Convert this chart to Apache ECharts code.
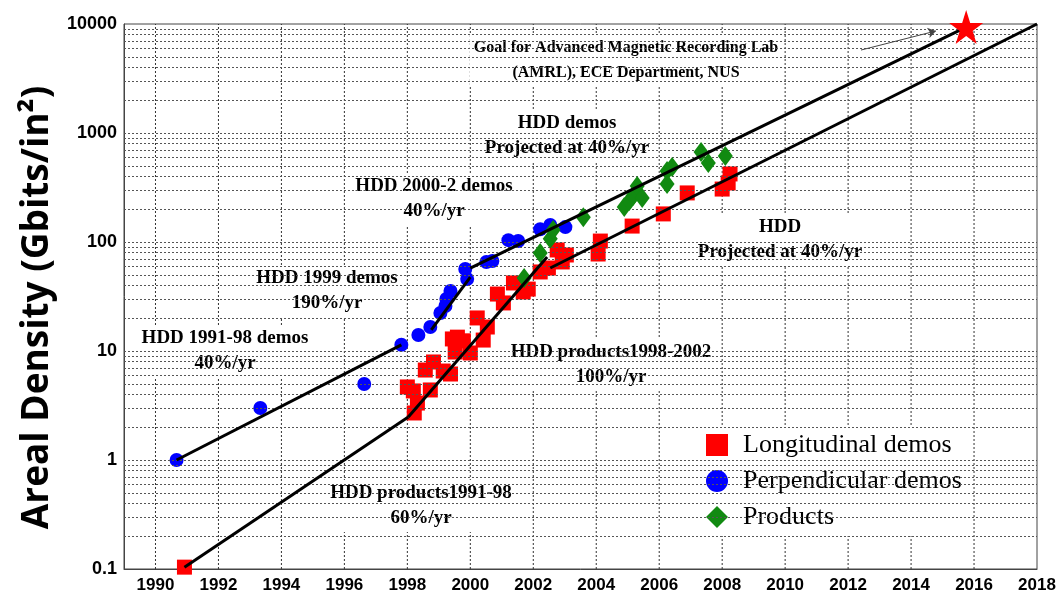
<!DOCTYPE html>
<html>
<head>
<meta charset="utf-8">
<script src="https://cdn.jsdelivr.net/npm/echarts@6/dist/echarts.min.js"></script>
<style>
html,body{margin:0;padding:0;background:#fff;}
#chart{width:1064px;height:595px;}
</style>
</head>
<body>
<div id="chart"></div>
<script>
// ---- data ----
const xTicks = [1990,1992,1994,1996,1998,2000,2002,2004,2006,2008,2010,2012,2014,2016,2018];
const yTicks = [0.1,1,10,100,1000,10000];

const longYears = [1990.92,1998.00,1998.19,1998.32,1998.22,1998.57,1998.83,1998.73,1999.14,1999.37,1999.43,1999.59,1999.52,1999.78,2000.00,2000.22,2000.54,2000.41,2000.86,2001.05,2001.37,2001.68,2001.84,2002.22,2002.48,2002.76,2002.92,2003.05,2004.06,2004.13,2005.14,2006.13,2006.89,2008.00,2008.19,2008.25];
const longVals  = [0.104,4.68,4.30,3.33,2.70,6.69,7.93,4.39,6.55,6.15,12.9,13.4,9.79,12.4,9.59,20.1,16.6,12.6,33.3,27.6,42.1,34.8,37.0,53.1,57.7,84.5,65.6,76.0,77.6,102,140,181,282,306,348,421];

const perpYears = [1990.67,1993.33,1996.63,1997.81,1998.35,1998.73,1999.05,1999.21,1999.24,1999.37,1999.84,1999.90,2000.51,2000.70,2001.21,2001.52,2002.22,2002.54,2003.02];
const perpVals  = [1.00,3.00,4.98,11.4,14.0,16.6,22.3,25.9,30.0,35.5,56.5,45.8,65.6,66.9,104,102,131,143,137];

const prodYears = [2001.71,2002.22,2002.54,2002.63,2003.59,2004.89,2005.05,2005.17,2005.30,2005.46,2006.25,2006.41,2006.25,2007.33,2007.56,2008.10];
const prodVals  = [46.8,79.3,107,129,169,209,238,264,326,253,448,488,340,670,531,615];

const goalYear = [2015.75];
const goalVal  = [9380];

// trend lines: [year, value] endpoints
const demos9198   = [[1990.67,1.0],[1997.81,11.4]];
const demos1999   = [[1998.76,15.6],[2000.0,47.7]];
const demos20002  = [[2000.0,57.7],[2015.75,9380]];
const prod9198    = [[1990.92,0.104],[1998.03,2.48]];
const prod982002  = [[1998.03,2.48],[2002.44,72.8]];
const hddProj     = [[2002.54,57.7],[2018,10000]];
const goalArrow   = [[2012.41,5770],[2014.79,8630]];

// gridlines
const xGrid = [1990,1992,1994,1996,1998,2000,2002,2004,2006,2008,2010,2012,2014,2016];
const decades = [0.1,1,10,100,1000];
const mult = [1,2,3,4,5,6,7,8,9];

// ---- build ----
const zip = (a,b) => a.map((v,i)=>[v,b[i]]);
const yMin = yTicks[0], yMax = yTicks[yTicks.length - 1];
const yGrid = [];
decades.forEach(d => mult.forEach(m => { const v = +(d*m).toPrecision(3); if (v > yMin) yGrid.push(v); }));

const serif = '"Liberation Serif","Times New Roman",serif';
const starPath = 'path://M50,0 L61.8,36.2 L100,36.2 L69.1,58.6 L80.9,95.1 L50,72.7 L19.1,95.1 L30.9,58.6 L0,36.2 L38.2,36.2 Z';
const gridStyle = {type:[2,2], color:'#555', width:1};
const vGridStyle = {type:[2,2], color:'#333', width:1};

function trend(name, pts) {
  return {name, type:'line', data: pts, symbol:'none', silent:true, z:6,
          lineStyle:{color:'#000', width:3}, clip:false};
}
function vgrid(x) {
  return {name:'vg' + x, type:'line', data:[[x, yMin],[x, yMax]], symbol:'none', silent:true, z:0,
          lineStyle:vGridStyle, clip:false};
}
function note(x, y, text, size) {
  return {type:'text', x, y, z:1, silent:true,
    style:{text, font:'bold ' + size + 'px ' + serif, fill:'#000', align:'center', verticalAlign:'middle',
           lineHeight:25, backgroundColor:'#fff', padding:[1,4]}};
}

const chart = echarts.init(document.getElementById('chart'));
chart.setOption({
  animation:false,
  backgroundColor:'#fff',
  grid:{left:124, right:27, top:24, bottom:26, show:true, borderColor:'#444', borderWidth:1, backgroundColor:'transparent'},
  xAxis:{type:'value', min:1989, max:2018, interval:1,
    axisLine:{lineStyle:{color:'#444'}}, axisTick:{show:false}, splitLine:{show:false},
    axisLabel:{customValues:xTicks, formatter: v => String(Math.round(v)),
      color:'#000', fontWeight:'bold', fontSize:17, fontFamily:'"Liberation Sans",Arial,sans-serif', margin:8, showMinLabel:true, showMaxLabel:true}},
  yAxis:{type:'log', logBase:10, min:yMin, max:yMax,
    name:'Areal Density (Gbits/in²)', nameLocation:'middle', nameGap:45,
    nameTextStyle:{fontFamily:'"Open Sans",sans-serif', fontWeight:'bold', fontSize:37, color:'#000', padding:[0,22,0,0]},
    axisLine:{show:true, lineStyle:{color:'#444'}}, axisTick:{show:false}, splitLine:{show:false},
    axisLabel:{color:'#000', fontWeight:'bold', fontSize:18, fontFamily:'"Liberation Sans",Arial,sans-serif', margin:7,
      formatter: v => { const t = yTicks.find(k => Math.abs(k - v) / k < 1e-6); return t === undefined ? '' : String(t); }}},
  legend:{orient:'vertical', left:698, top:426, itemWidth:22, itemHeight:22, itemGap:10,
    backgroundColor:'#fff', padding:[6,10,6,8],
    textStyle:{fontFamily:serif, fontSize:26, color:'#000', padding:[0,0,0,10]},
    data:[{name:'Longitudinal demos', icon:'rect'},{name:'Perpendicular demos', icon:'circle'},{name:'Products', icon:'diamond'}]},
  graphic:[
    note(626, 60, 'Goal for Advanced Magnetic Recording Lab\n(AMRL), ECE Department, NUS', 16),
    note(567, 136, 'HDD demos\nProjected at 40%/yr', 19),
    note(434, 199, 'HDD 2000-2 demos\n40%/yr', 19),
    note(327, 291, 'HDD 1999 demos\n190%/yr', 19),
    note(225, 351, 'HDD 1991-98 demos\n40%/yr', 19),
    note(611, 365, 'HDD products1998-2002\n100%/yr', 19),
    note(780, 240, 'HDD\nProjected at 40%/yr', 19),
    note(421, 506, 'HDD products1991-98\n60%/yr', 19)
  ],
  series:[
    {name:'grid', type:'line', data:[], silent:true, z:0,
      markLine:{silent:true, symbol:['none','none'], label:{show:false}, animation:false,
        lineStyle:gridStyle, data:yGrid.map(v=>({yAxis:v}))}},
    ...xGrid.map(vgrid),
    {name:'Longitudinal demos', type:'scatter', data:zip(longYears,longVals), symbol:'rect', symbolSize:15,
      itemStyle:{color:'#ff0000', opacity:1}, z:3, clip:false},
    {name:'Perpendicular demos', type:'scatter', data:zip(perpYears,perpVals), symbol:'circle', symbolSize:14,
      itemStyle:{color:'#0000ff', opacity:1}, z:4},
    {name:'Products', type:'scatter', data:zip(prodYears,prodVals), symbol:'diamond', symbolSize:[15,20],
      itemStyle:{color:'#118a11', opacity:1}, z:5},
    trend('t1', demos9198), trend('t2', demos1999), trend('t3', demos20002),
    trend('t4', prod9198), trend('t5', prod982002), trend('t6', hddProj),
    {name:'arrow', type:'line', data:[], silent:true, z:6,
      markLine:{silent:true, symbol:['none','arrow'], symbolSize:8, label:{show:false},
        lineStyle:{type:'solid', color:'#444', width:1},
        data:[[{coord:goalArrow[0]},{coord:goalArrow[1]}]]}},
    {name:'Goal', type:'scatter', data:zip(goalYear,goalVal), symbol:starPath, symbolSize:34,
      itemStyle:{color:'#ff0000', opacity:1}, z:7, clip:false}
  ]
});
</script>
</body>
</html>
